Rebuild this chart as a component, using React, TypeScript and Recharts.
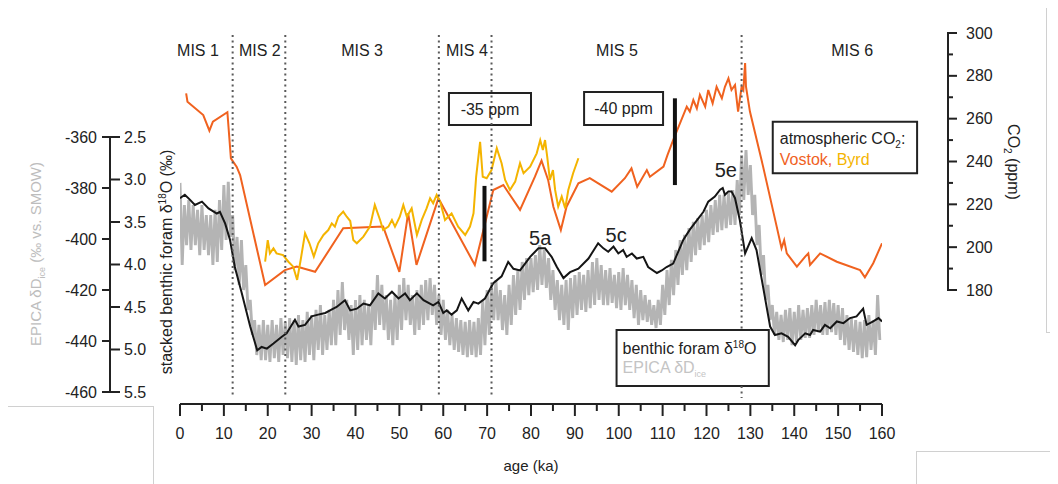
import React from 'react';
import { ComposedChart, Line, XAxis, YAxis, ReferenceLine, ReferenceArea, ReferenceDot } from 'recharts';

const FONT = '"Liberation Sans", Arial, Helvetica, sans-serif';
const INK = '#222222';
const ORANGE = '#f0621f';
const YELLOW = '#f4b400';
const GRAY = '#b4b4b4';
const LIGHT = '#c4c4c4';

// ---------- layout ----------
const W = 1050;
const H = 476;
const MARGIN = { top: 22, right: 26, bottom: 10, left: 42 };
const O18_W = 70;
const DD_W = 60;
const CO2_W = 150;
const X_H = 70;
const PLOT_H = H - MARGIN.top - MARGIN.bottom - X_H;

// axis ids (sorted so that the δ18O axis sits next to the plot)
const O18_ID = 'a_o18';
const DD_ID = 'b_dD';
const CO2_ID = 'c_co2';

// ---------- axes ----------
const AGE_DOMAIN = [0, 160];
const AGE_TICKS = [0, 5, 10, 15, 20, 25, 30, 35, 40, 45, 50, 55, 60, 65, 70, 75, 80, 85, 90, 95, 100, 105, 110, 115, 120, 125, 130, 135, 140, 145, 150, 155, 160];
const DD_DOMAIN = [-464.706, -318.039];
const DD_TICKS = [-360, -380, -400, -420, -440, -460];
const O18_DOMAIN = [1.2412, 5.6412];
const O18_TICKS = [2.5, 3.0, 3.5, 4.0, 4.5, 5.0, 5.5];
const CO2_DOMAIN = [126.77, 301.4];
const CO2_TICKS = [180, 190, 200, 210, 220, 230, 240, 250, 260, 270, 280, 290, 300];

// ---------- data ----------
const BENTHIC_AGE = [0, 1.1, 2.3, 3.4, 5.0, 6.5, 8.4, 9.1, 10.3, 11.4, 12.5, 14.1, 16.0, 17.6, 18.6, 19.8, 21.3, 23.2, 24.3, 25.5, 26.2, 27.0, 28.5, 30.0, 31.5, 33.1, 34.2, 35.7, 37.6, 38.8, 40.3, 41.8, 43.3, 45.2, 46.7, 48.3, 49.8, 51.3, 52.4, 54.0, 55.5, 57.7, 58.9, 60.0, 60.8, 61.9, 63.1, 64.2, 65.7, 66.9, 68.0, 69.5, 71.4, 73.3, 74.8, 76.0, 77.5, 79.8, 81.7, 83.2, 84.7, 85.9, 87.4, 88.9, 90.8, 93.1, 95.3, 96.5, 97.6, 98.8, 99.9, 101.0, 101.8, 103.0, 104.1, 105.6, 106.7, 108.7, 109.8, 110.9, 112.4, 114.7, 116.2, 117.8, 119.3, 120.4, 121.9, 123.1, 123.7, 124.2, 125.0, 125.7, 126.5, 127.6, 128.8, 130.3, 131.4, 134.5, 135.6, 137.1, 138.6, 140.2, 140.9, 142.5, 143.6, 144.3, 145.9, 147.0, 148.2, 149.7, 151.2, 152.7, 154.2, 155.7, 156.5, 158.0, 159.2, 160.0];
const BENTHIC_D18O = [3.22, 3.18, 3.24, 3.30, 3.26, 3.34, 3.40, 3.38, 3.52, 3.71, 4.03, 4.34, 4.73, 5.01, 4.97, 4.99, 4.93, 4.85, 4.81, 4.71, 4.65, 4.73, 4.71, 4.61, 4.59, 4.57, 4.54, 4.50, 4.42, 4.54, 4.52, 4.46, 4.48, 4.34, 4.40, 4.32, 4.40, 4.34, 4.42, 4.34, 4.42, 4.48, 4.44, 4.57, 4.54, 4.59, 4.54, 4.40, 4.54, 4.44, 4.46, 4.40, 4.22, 4.14, 3.97, 4.05, 4.07, 3.91, 3.81, 3.81, 3.91, 4.03, 4.16, 4.09, 4.05, 3.93, 3.75, 3.81, 3.85, 3.79, 3.87, 3.83, 3.91, 3.87, 3.93, 3.91, 4.03, 4.10, 4.07, 4.03, 3.99, 3.71, 3.59, 3.48, 3.38, 3.26, 3.20, 3.12, 3.10, 3.18, 3.14, 3.14, 3.22, 3.48, 3.87, 3.69, 3.83, 4.73, 4.83, 4.81, 4.85, 4.95, 4.89, 4.81, 4.83, 4.77, 4.79, 4.71, 4.75, 4.67, 4.69, 4.63, 4.61, 4.52, 4.71, 4.67, 4.63, 4.67];

const VOSTOK_AGE = [1.4, 1.7, 5.3, 6.7, 7.5, 10.8, 11.6, 12.9, 13.7, 19.4, 23.9, 26.6, 30.8, 37.2, 46.3, 50.0, 52.0, 53.9, 58.9, 67.2, 71.4, 73.7, 77.5, 80.9, 82.4, 83.9, 85.1, 86.8, 88.1, 90.8, 93.4, 98.4, 101.4, 102.9, 104.2, 106.4, 107.1, 110.2, 111.1, 112.4, 115.5, 116.2, 117.0, 117.8, 118.5, 119.7, 120.4, 121.4, 122.3, 123.5, 124.2, 125.0, 125.7, 126.5, 127.2, 128.0, 128.4, 128.8, 129.0, 129.9, 132.9, 136.0, 137.1, 137.7, 138.3, 140.6, 142.5, 143.2, 143.6, 145.9, 149.7, 155.0, 156.1, 158.0, 160.0];
const VOSTOK_CO2 = [271.8, 267.9, 261.7, 254.4, 258.6, 263.0, 241.5, 237.6, 233.7, 182.3, 189.3, 190.9, 188.5, 208.8, 209.6, 188.5, 215.8, 191.7, 222.8, 191.7, 226.7, 229.0, 217.4, 232.9, 240.4, 231.4, 218.9, 208.0, 218.9, 229.8, 232.2, 225.9, 232.2, 236.8, 228.2, 236.0, 232.9, 237.6, 243.0, 250.0, 265.6, 263.3, 268.7, 264.8, 271.1, 265.6, 273.4, 267.2, 274.9, 269.5, 274.9, 278.8, 273.4, 275.7, 263.3, 274.9, 273.4, 286.0, 274.9, 263.3, 237.6, 209.6, 199.5, 203.3, 197.1, 190.9, 195.6, 197.1, 191.7, 197.1, 193.2, 189.3, 185.9, 192.5, 201.8];

const BYRD_AGE = [19.4, 20.0, 20.5, 21.3, 22.0, 23.5, 24.7, 25.8, 26.7, 27.5, 28.5, 29.5, 30.5, 31.5, 32.7, 33.8, 34.6, 35.3, 36.1, 37.2, 38.0, 38.8, 39.5, 40.3, 41.8, 43.3, 44.4, 45.6, 46.3, 47.5, 48.3, 49.0, 50.1, 50.9, 51.7, 52.8, 54.0, 55.1, 56.2, 57.0, 57.7, 58.5, 59.3, 60.4, 61.9, 63.4, 65.0, 66.1, 66.9, 67.5, 68.4, 69.0, 69.9, 71.0, 72.2, 73.3, 74.1, 75.2, 76.4, 77.5, 78.3, 79.8, 81.3, 82.1, 82.7, 83.2, 83.7, 84.3, 85.0, 85.5, 86.2, 87.0, 87.8, 88.5, 89.6, 90.8];
const BYRD_CO2 = [193.2, 203.3, 197.1, 199.5, 197.1, 196.3, 193.2, 190.9, 184.7, 194.0, 206.5, 201.8, 195.6, 201.8, 205.7, 208.0, 211.1, 209.6, 214.2, 216.6, 214.2, 212.2, 203.3, 201.8, 204.9, 209.6, 219.7, 212.7, 208.0, 209.6, 212.7, 209.6, 214.2, 219.7, 214.2, 218.1, 205.7, 212.7, 218.1, 222.8, 220.5, 224.4, 221.2, 212.7, 215.8, 209.6, 205.7, 209.6, 215.8, 232.9, 249.2, 232.9, 232.2, 236.0, 246.2, 239.2, 231.4, 226.7, 230.6, 239.2, 234.5, 237.6, 243.8, 250.0, 245.4, 250.0, 242.2, 231.4, 236.0, 226.7, 218.9, 223.6, 218.1, 226.7, 234.5, 241.5];

// EPICA dD band edges, one pair per ka (0..159)
const EPICA_TOP = [-378.0, -386.7, -384.7, -386.7, -388.6, -386.7, -390.6, -390.6, -388.6, -384.7, -378.8, -377.6, -390.6, -399.2, -400.4, -410.2, -423.9, -431.8, -433.7, -431.8, -433.7, -431.8, -433.7, -431.0, -432.5, -431.0, -431.8, -429.8, -431.8, -428.6, -429.8, -427.8, -425.9, -429.8, -427.8, -423.9, -420.0, -416.9, -423.9, -425.9, -423.9, -422.0, -423.9, -425.9, -420.0, -414.1, -418.0, -422.0, -423.9, -422.0, -418.0, -415.3, -418.0, -422.0, -420.0, -418.0, -416.1, -415.3, -418.0, -422.0, -423.9, -427.8, -429.8, -431.0, -431.8, -432.5, -431.8, -432.5, -431.0, -423.9, -420.0, -418.0, -416.1, -420.0, -422.0, -418.0, -414.1, -412.2, -409.0, -407.5, -407.5, -406.3, -402.4, -404.3, -407.5, -412.2, -416.1, -418.0, -416.1, -415.3, -414.1, -413.0, -414.1, -412.2, -409.0, -407.5, -410.2, -412.2, -411.4, -414.1, -413.0, -411.4, -414.1, -416.1, -418.0, -420.0, -422.0, -423.9, -425.9, -423.9, -418.0, -412.2, -408.2, -404.3, -400.4, -398.4, -395.7, -393.3, -391.8, -390.6, -388.6, -386.7, -384.7, -382.7, -382.7, -382.0, -380.8, -376.9, -367.1, -365.1, -371.0, -382.7, -394.5, -406.3, -418.0, -425.9, -428.6, -429.8, -427.8, -427.1, -428.6, -425.9, -427.8, -427.1, -425.9, -423.9, -425.9, -424.7, -423.9, -425.1, -425.9, -427.1, -429.8, -431.0, -431.8, -432.5, -431.8, -429.8, -431.8, -422.0];
const EPICA_BOTTOM = [-410.2, -402.4, -404.3, -402.4, -406.3, -404.3, -406.3, -410.2, -409.0, -404.3, -400.4, -399.2, -412.2, -418.0, -420.0, -427.8, -437.6, -445.5, -447.5, -447.5, -448.2, -446.7, -448.2, -445.5, -446.7, -448.2, -449.4, -447.5, -448.2, -445.5, -447.5, -443.5, -445.5, -443.5, -441.6, -441.6, -437.6, -435.7, -439.6, -445.5, -443.5, -441.6, -439.6, -441.6, -435.7, -433.7, -435.7, -439.6, -441.6, -439.6, -435.7, -431.8, -433.7, -437.6, -435.7, -433.7, -431.8, -429.8, -433.7, -437.6, -439.6, -441.6, -443.5, -444.3, -445.5, -446.3, -445.5, -446.3, -445.5, -441.6, -437.6, -431.8, -431.8, -435.7, -437.6, -433.7, -429.8, -427.8, -423.9, -422.0, -420.8, -420.0, -418.0, -419.2, -423.9, -427.8, -431.8, -433.7, -435.7, -431.0, -429.8, -427.8, -428.6, -427.1, -425.9, -423.9, -425.9, -425.9, -425.1, -427.1, -427.8, -425.9, -427.8, -431.0, -433.7, -431.8, -432.5, -433.7, -434.9, -433.7, -429.8, -425.9, -422.0, -418.0, -414.1, -412.2, -409.0, -406.3, -404.3, -402.4, -401.2, -398.4, -397.3, -396.5, -395.7, -394.5, -394.5, -390.6, -384.7, -382.7, -390.6, -402.4, -414.1, -423.9, -431.8, -437.6, -439.6, -440.4, -439.6, -441.6, -440.4, -439.6, -438.8, -438.8, -437.6, -436.5, -437.6, -437.6, -436.5, -437.6, -439.6, -441.6, -443.5, -444.3, -445.5, -446.7, -446.3, -443.5, -445.5, -439.6];

// ---------- annotations ----------
const MIS_BOUNDARIES = [12, 24, 59, 71, 128];
const MIS_LINE_TOP = 299.1;
const MIS_LINE_BOTTOM = 129.6;
const MIS_LABELS = ['MIS 1', 'MIS 2', 'MIS 3', 'MIS 4', 'MIS 5', 'MIS 6'];
const MIS_LABEL_AGE = [4.1, 18.2, 41.5, 65.4, 99.6, 153.2];
const MIS_LABEL_CO2 = 292.1;
const SUBSTAGES = ['5a', '5c', '5e'];
const SUBSTAGE_AGE = [82.1, 99.4, 124.4];
const SUBSTAGE_CO2 = [204.3, 205.7, 236.0];
// legend box for the benthic / EPICA records (age range, CO2-axis range)
const BENTHIC_BOX = { x1: 99.5, x2: 134.2, y1: 135.2, y2: 161.3 };

const benthicData = BENTHIC_AGE.map((a, i) => ({ age: a, v: BENTHIC_D18O[i] }));
const vostokData = VOSTOK_AGE.map((a, i) => ({ age: a, v: VOSTOK_CO2[i] }));
const byrdData = BYRD_AGE.map((a, i) => ({ age: a, v: BYRD_CO2[i] }));
const epicaData = EPICA_TOP.flatMap((t, i) => [
  { age: i, v: t },
  { age: i + 0.5, v: EPICA_BOTTOM[i] },
]);

const DD_PX = PLOT_H / (DD_DOMAIN[1] - DD_DOMAIN[0]);
const CO2_PX = PLOT_H / (CO2_DOMAIN[1] - CO2_DOMAIN[0]);

const txt = { fontFamily: FONT, fontSize: 16, fill: INK };

const XTick = (props: any) => {
  const { x, y, payload } = props;
  const v = payload.value;
  const major = v % 10 === 0;
  return (
    <g>
      <line x1={x} x2={x} y1={y} y2={y + (major ? 12 : 7)} stroke={INK} strokeWidth={2} />
      {major && (
        <text x={x} y={y + 29} dy="0.35em" textAnchor="middle" {...txt}>
          {v}
        </text>
      )}
    </g>
  );
};

const DDTick = (props: any) => {
  const { x, y, payload } = props;
  const v = payload.value;
  return (
    <g>
      <line x1={x - 8} x2={x} y1={y} y2={y} stroke={INK} strokeWidth={2} />
      {v !== DD_TICKS[DD_TICKS.length - 1] && (
        <line x1={x} x2={x} y1={y - 1} y2={y + 20 * DD_PX + 1} stroke={INK} strokeWidth={2} />
      )}
      <text x={x - 13} y={y} dy="0.35em" textAnchor="end" {...txt}>
        {v}
      </text>
    </g>
  );
};

const O18Tick = (props: any) => {
  const { x, y, payload } = props;
  const ax = x - O18_W;
  return (
    <g>
      <line x1={ax} x2={ax + 10} y1={y} y2={y} stroke={INK} strokeWidth={2} />
      <text x={ax + 14} y={y} dy="0.35em" textAnchor="start" {...txt}>
        {Number(payload.value).toFixed(1)}
      </text>
    </g>
  );
};

const CO2Tick = (props: any) => {
  const { x, y, payload } = props;
  const v = payload.value;
  const ax = x + 66;
  const major = v % 20 === 0;
  return (
    <g>
      <line x1={ax} x2={ax + (major ? 9 : 5)} y1={y} y2={y} stroke={INK} strokeWidth={2} />
      {v !== CO2_TICKS[CO2_TICKS.length - 1] && (
        <line x1={ax} x2={ax} y1={y + 1} y2={y - 10 * CO2_PX - 1} stroke={INK} strokeWidth={2} />
      )}
      {major && (
        <text x={ax + 18} y={y} dy="0.35em" textAnchor="start" {...txt}>
          {v}
        </text>
      )}
    </g>
  );
};

const o18Title = (props: any) => {
  const vb = props.viewBox || {};
  const cx = vb.x + 62;
  const cy = vb.y + 232;
  return (
    <text x={cx} y={cy} transform={`rotate(-90 ${cx} ${cy})`} textAnchor="middle" {...txt}>
      stacked benthic foram δ<tspan dy={-6} fontSize={10}>18</tspan>
      <tspan dy={6}>O (‰)</tspan>
    </text>
  );
};

const ddTitle = (props: any) => {
  const vb = props.viewBox || {};
  const cx = vb.x - 9;
  const cy = vb.y + 224;
  return (
    <text x={cx} y={cy} transform={`rotate(-90 ${cx} ${cy})`} textAnchor="middle" {...txt} fontSize={15} fill="#bdbdbd">
      EPICA  δD<tspan dy={4} fontSize={9}>ice</tspan>
      <tspan dy={-4}> (‰ vs. SMOW)</tspan>
    </text>
  );
};

const co2Title = (props: any) => {
  const vb = props.viewBox || {};
  const cx = vb.x + 126;
  const cy = vb.y + 132;
  return (
    <text x={cx} y={cy} transform={`rotate(90 ${cx} ${cy})`} textAnchor="middle" {...txt}>
      CO<tspan dy={4} fontSize={10}>2</tspan>
      <tspan dy={-4}> (ppm)</tspan>
    </text>
  );
};

const ageTitle = (props: any) => {
  const vb = props.viewBox || {};
  return (
    <text x={vb.x + vb.width / 2} y={vb.y + 62} dy="0.35em" textAnchor="middle" {...txt} fontSize={15}>
      age (ka)
    </text>
  );
};

const co2Legend = (props: any) => {
  const vb = props.viewBox || {};
  return (
    <g>
      <text x={vb.x + 7} y={vb.y + 17} dy="0.35em" {...txt}>
        atmospheric CO<tspan dy={4} fontSize={10}>2</tspan>
        <tspan dy={-4}>:</tspan>
      </text>
      <text x={vb.x + 7} y={vb.y + 38} dy="0.35em" {...txt}>
        <tspan fill={ORANGE}>Vostok, </tspan>
        <tspan fill={YELLOW}>Byrd</tspan>
      </text>
    </g>
  );
};

const benthicLegend = (props: any) => {
  const vb = props.viewBox || {};
  return (
    <g>
      <text x={vb.x + 6} y={vb.y + 18} dy="0.35em" {...txt}>
        benthic foram δ<tspan dy={-6} fontSize={10}>18</tspan>
        <tspan dy={6}>O</tspan>
      </text>
      <text x={vb.x + 6} y={vb.y + 37} dy="0.35em" {...txt} fill={LIGHT}>
        EPICA  δD<tspan dy={4} fontSize={9}>ice</tspan>
      </text>
    </g>
  );
};

const textShape = (label: string, size: number) => (p: any) => (
  <text x={p.cx} y={p.cy} dy="0.35em" textAnchor="middle" {...txt} fontSize={size}>
    {label}
  </text>
);

const artifact = (style: React.CSSProperties) => (
  <div style={{ position: 'absolute', background: '#d0d0d0', ...style }} />
);

// dotted MIS boundaries; the one that crosses the benthic legend box is split around it
const misSegments = MIS_BOUNDARIES.flatMap((a) =>
  a > BENTHIC_BOX.x1 && a < BENTHIC_BOX.x2
    ? [
        [MIS_LINE_TOP, BENTHIC_BOX.y2],
        [BENTHIC_BOX.y1, MIS_LINE_BOTTOM],
      ].map(([t, b]) => ({ a, t, b }))
    : [{ a, t: MIS_LINE_TOP, b: MIS_LINE_BOTTOM }]
);

export default function App() {
  return (
    <div style={{ position: 'relative', width: W, height: H, fontFamily: FONT }}>
      <ComposedChart width={W} height={H} margin={MARGIN}>
        <XAxis
          dataKey="age"
          type="number"
          domain={AGE_DOMAIN}
          ticks={AGE_TICKS}
          interval={0}
          allowDataOverflow
          height={X_H}
          tickSize={0}
          tickMargin={0}
          tickLine={false}
          axisLine={{ stroke: INK, strokeWidth: 2 }}
          tick={<XTick />}
          label={ageTitle}
        />
        <YAxis
          yAxisId={O18_ID}
          orientation="left"
          type="number"
          reversed
          domain={O18_DOMAIN}
          ticks={O18_TICKS}
          interval={0}
          allowDataOverflow
          width={O18_W}
          tickSize={0}
          tickMargin={0}
          tickLine={false}
          axisLine={false}
          tick={<O18Tick />}
          label={o18Title}
        />
        <YAxis
          yAxisId={DD_ID}
          orientation="left"
          type="number"
          domain={DD_DOMAIN}
          ticks={DD_TICKS}
          interval={0}
          allowDataOverflow
          width={DD_W}
          tickSize={0}
          tickMargin={0}
          tickLine={false}
          axisLine={false}
          tick={<DDTick />}
          label={ddTitle}
        />
        <YAxis
          yAxisId={CO2_ID}
          orientation="right"
          type="number"
          domain={CO2_DOMAIN}
          ticks={CO2_TICKS}
          interval={0}
          allowDataOverflow
          width={CO2_W}
          tickSize={0}
          tickMargin={0}
          tickLine={false}
          axisLine={false}
          tick={<CO2Tick />}
          label={co2Title}
        />

        <Line yAxisId={DD_ID} data={epicaData} dataKey="v" type="linear" stroke={GRAY} strokeWidth={2.9} dot={false} activeDot={false} isAnimationActive={false} />
        <Line yAxisId={O18_ID} data={benthicData} dataKey="v" type="linear" stroke="#151515" strokeWidth={2} dot={false} activeDot={false} isAnimationActive={false} />
        <Line yAxisId={CO2_ID} data={vostokData} dataKey="v" type="linear" stroke={ORANGE} strokeWidth={2} dot={false} activeDot={false} isAnimationActive={false} />
        <Line yAxisId={CO2_ID} data={byrdData} dataKey="v" type="linear" stroke={YELLOW} strokeWidth={2} dot={false} activeDot={false} isAnimationActive={false} />

        {misSegments.map((s, i) => (
          <ReferenceLine
            key={`mis-${i}`}
            yAxisId={CO2_ID}
            segment={[{ x: s.a, y: s.t }, { x: s.a, y: s.b }]}
            stroke="#5a5a5a"
            strokeWidth={2}
            strokeDasharray="2 3.5"
          />
        ))}
        <ReferenceLine yAxisId={CO2_ID} segment={[{ x: 69.4, y: 228.6 }, { x: 69.4, y: 193.4 }]} stroke="#111" strokeWidth={4} />
        <ReferenceLine yAxisId={CO2_ID} segment={[{ x: 112.8, y: 269.5 }, { x: 112.8, y: 229.0 }]} stroke="#111" strokeWidth={4} />

        <ReferenceArea
          yAxisId={CO2_ID}
          x1={61.3}
          x2={80.0}
          y1={257.0}
          y2={272.0}
          fill="#ffffff"
          fillOpacity={1}
          stroke={INK}
          strokeWidth={2}
          ifOverflow="visible"
          label={{ value: '-35 ppm', position: 'center', fill: INK, fontSize: 16, fontFamily: FONT }}
        />
        <ReferenceArea
          yAxisId={CO2_ID}
          x1={92.1}
          x2={110.1}
          y1={257.0}
          y2={272.4}
          fill="#ffffff"
          fillOpacity={1}
          stroke={INK}
          strokeWidth={2}
          ifOverflow="visible"
          label={{ value: '-40 ppm', position: 'center', fill: INK, fontSize: 16, fontFamily: FONT }}
        />
        <ReferenceArea
          yAxisId={CO2_ID}
          x1={135.1}
          x2={168.0}
          y1={234.5}
          y2={258.6}
          fill="#ffffff"
          fillOpacity={1}
          stroke={INK}
          strokeWidth={2}
          ifOverflow="visible"
          label={co2Legend}
        />
        <ReferenceArea
          yAxisId={CO2_ID}
          x1={BENTHIC_BOX.x1}
          x2={BENTHIC_BOX.x2}
          y1={BENTHIC_BOX.y1}
          y2={BENTHIC_BOX.y2}
          fill="#ffffff"
          fillOpacity={1}
          stroke={INK}
          strokeWidth={2}
          ifOverflow="visible"
          label={benthicLegend}
        />

        {MIS_LABELS.map((l, i) => (
          <ReferenceDot key={l} yAxisId={CO2_ID} x={MIS_LABEL_AGE[i]} y={MIS_LABEL_CO2} r={0} ifOverflow="visible" shape={textShape(l, 16)} />
        ))}
        {SUBSTAGES.map((l, i) => (
          <ReferenceDot key={l} yAxisId={CO2_ID} x={SUBSTAGE_AGE[i]} y={SUBSTAGE_CO2[i]} r={0} ifOverflow="visible" shape={textShape(l, 20)} />
        ))}
      </ComposedChart>
      {artifact({ left: 0, top: 398, width: 145, height: 1 })}
      {artifact({ left: 145, top: 398, width: 1, height: 78 })}
      {artifact({ left: 908, top: 443, width: 142, height: 1 })}
      {artifact({ left: 908, top: 443, width: 1, height: 33 })}
      {artifact({ left: 1038, top: -8, width: 1, height: 332 })}
      {artifact({ left: 1038, top: 324, width: 12, height: 1 })}
    </div>
  );
}
